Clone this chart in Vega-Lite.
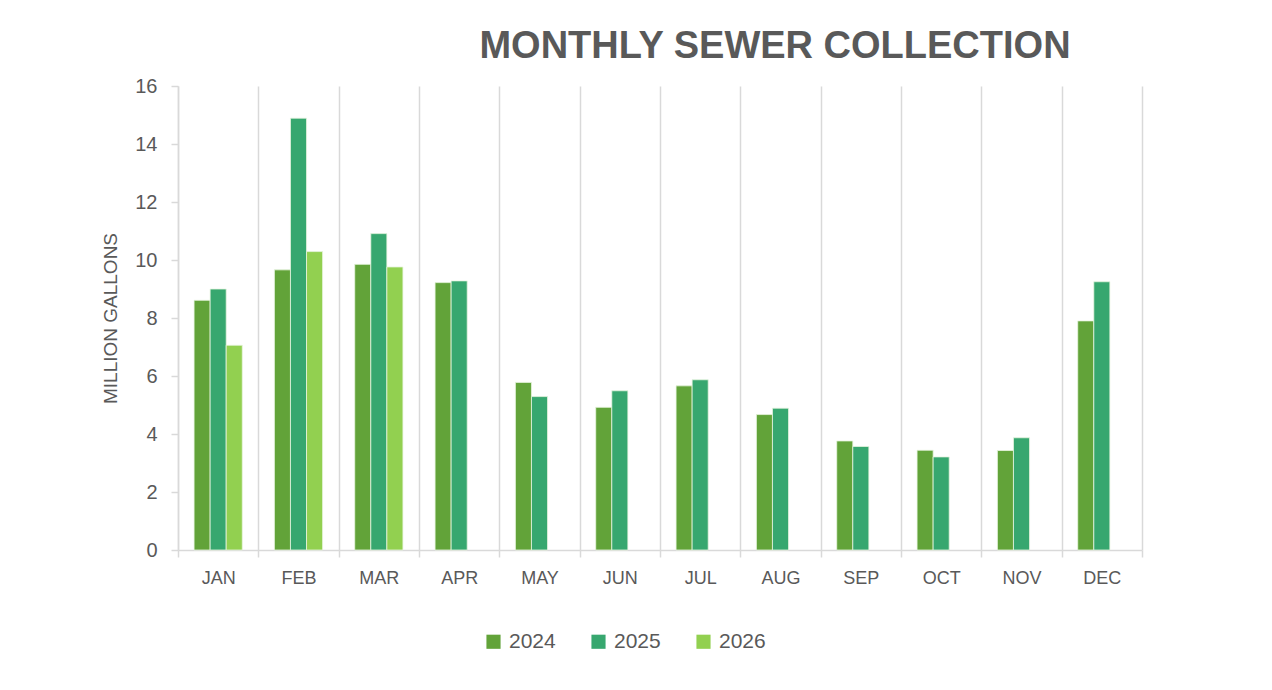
{
  "$schema": "https://vega.github.io/schema/vega-lite/v6.json",
  "autosize": "none",
  "width": 964,
  "height": 464,
  "padding": {"left": 178, "top": 86, "right": 130, "bottom": 140},
  "background": "white",
  "title": {
    "text": "MONTHLY SEWER COLLECTION",
    "font": "Liberation Sans",
    "fontSize": 38,
    "fontWeight": "bold",
    "color": "#595959",
    "anchor": "middle",
    "dx": 115,
    "offset": 10
  },
  "data": {
    "values": [
      {"month": "JAN", "year": "2024", "value": 8.61},
      {"month": "JAN", "year": "2025", "value": 9.0},
      {"month": "JAN", "year": "2026", "value": 7.06},
      {"month": "FEB", "year": "2024", "value": 9.66},
      {"month": "FEB", "year": "2025", "value": 14.89},
      {"month": "FEB", "year": "2026", "value": 10.29},
      {"month": "MAR", "year": "2024", "value": 9.85},
      {"month": "MAR", "year": "2025", "value": 10.91},
      {"month": "MAR", "year": "2026", "value": 9.76},
      {"month": "APR", "year": "2024", "value": 9.22},
      {"month": "APR", "year": "2025", "value": 9.28},
      {"month": "MAY", "year": "2024", "value": 5.78},
      {"month": "MAY", "year": "2025", "value": 5.29},
      {"month": "JUN", "year": "2024", "value": 4.92},
      {"month": "JUN", "year": "2025", "value": 5.49},
      {"month": "JUL", "year": "2024", "value": 5.66},
      {"month": "JUL", "year": "2025", "value": 5.87},
      {"month": "AUG", "year": "2024", "value": 4.67},
      {"month": "AUG", "year": "2025", "value": 4.89},
      {"month": "SEP", "year": "2024", "value": 3.76},
      {"month": "SEP", "year": "2025", "value": 3.57},
      {"month": "OCT", "year": "2024", "value": 3.44},
      {"month": "OCT", "year": "2025", "value": 3.21},
      {"month": "NOV", "year": "2024", "value": 3.43},
      {"month": "NOV", "year": "2025", "value": 3.87},
      {"month": "DEC", "year": "2024", "value": 7.9},
      {"month": "DEC", "year": "2025", "value": 9.25}
    ]
  },
  "mark": {"type": "bar", "stroke": "#e8f5e0", "strokeWidth": 0.8},
  "encoding": {
    "x": {
      "field": "month",
      "type": "nominal",
      "sort": ["JAN","FEB","MAR","APR","MAY","JUN","JUL","AUG","SEP","OCT","NOV","DEC"],
      "scale": {"paddingInner": 0, "paddingOuter": 0},
      "axis": {
        "title": null,
        "labelAngle": 0,
        "tickBand": "extent",
        "grid": true,
        "gridColor": "#d9d9d9",
        "gridWidth": 1.5,
        "domainColor": "#d9d9d9",
        "domainWidth": 1.5,
        "tickColor": "#d9d9d9",
        "tickWidth": 1.5,
        "tickSize": 7,
        "labelFont": "Liberation Sans",
        "labelFontSize": 18,
        "labelColor": "#595959",
        "labelPadding": 12
      }
    },
    "xOffset": {
      "field": "year",
      "type": "nominal",
      "scale": {"domain": ["2024","2025","2026"], "paddingInner": 0, "paddingOuter": 1.06}
    },
    "y": {
      "field": "value",
      "type": "quantitative",
      "scale": {"domain": [0, 16], "nice": false},
      "axis": {
        "title": "MILLION GALLONS",
        "titleFont": "Liberation Sans",
        "titleFontSize": 19,
        "titleFontWeight": "normal",
        "titleColor": "#595959",
        "titlePadding": 14,
        "values": [0,2,4,6,8,10,12,14,16],
        "grid": false,
        "domainColor": "#d9d9d9",
        "domainWidth": 1.5,
        "tickColor": "#d9d9d9",
        "tickWidth": 1.5,
        "tickSize": 7,
        "labelFont": "Liberation Sans",
        "labelFontSize": 20,
        "labelColor": "#595959",
        "labelPadding": 14
      }
    },
    "color": {
      "field": "year",
      "type": "nominal",
      "scale": {"domain": ["2024","2025","2026"], "range": ["#62a339","#37a76f","#92d050"]},
      "legend": {
        "title": null,
        "orient": "none",
        "direction": "horizontal",
        "legendX": 305,
        "legendY": 545,
        "symbolType": "square",
        "symbolSize": 200,
        "symbolStrokeWidth": 0,
        "labelFont": "Liberation Sans",
        "labelFontSize": 21,
        "labelColor": "#595959",
        "columnPadding": 32,
        "labelOffset": 5
      }
    }
  },
  "config": {"view": {"stroke": null}}
}
